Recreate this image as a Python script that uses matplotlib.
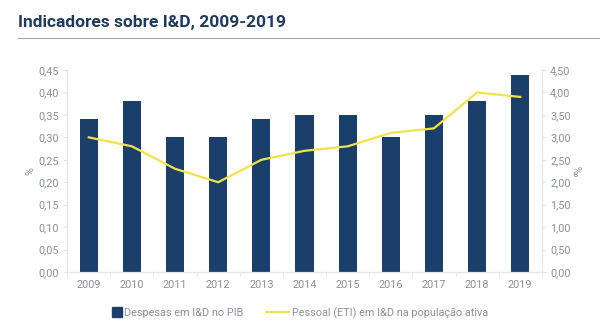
import matplotlib
matplotlib.use("Agg")
import matplotlib.pyplot as plt
import numpy as np
from matplotlib.lines import Line2D
from matplotlib.ticker import FuncFormatter, MultipleLocator, FixedLocator

plt.rcParams["font.family"] = ["Roboto", "DejaVu Sans"]

years = ["2009", "2010", "2011", "2012", "2013", "2014", "2015", "2016", "2017", "2018", "2019"]
despesas_pib = [0.34, 0.38, 0.30, 0.30, 0.34, 0.35, 0.35, 0.30, 0.35, 0.38, 0.44]
pessoal_eti = [3.0, 2.8, 2.3, 2.0, 2.5, 2.7, 2.8, 3.1, 3.2, 4.0, 3.9]

BAR = "#1a3f6b"
LINE = "#f2e14c"
TXT = "#8a8f96"
AXC = "#e3e6ea"

fig = plt.figure(figsize=(6, 3.35), dpi=100)
ax = fig.add_axes([0.112, 0.188, 0.791, 0.603])
ax2 = ax.twinx()

x = np.arange(len(years))
ax.bar(x, despesas_pib, width=0.42, color=BAR, zorder=2)
ax2.plot(x, pessoal_eti, color=LINE, linewidth=1.6)

ax.set_xlim(-0.5, len(years) - 0.5)
ax.set_ylim(0, 0.45)
ax2.set_ylim(0, 4.5)
ax.yaxis.set_major_locator(MultipleLocator(0.05))
ax2.yaxis.set_major_locator(MultipleLocator(0.5))
comma = lambda v, p: f"{v:.2f}".replace(".", ",")
ax.yaxis.set_major_formatter(FuncFormatter(comma))
ax2.yaxis.set_major_formatter(FuncFormatter(comma))

ax.set_xticks(x)
ax.set_xticklabels(years)
ax.xaxis.set_minor_locator(FixedLocator(np.arange(-0.5, len(years), 1.0)))
ax.tick_params(axis="x", which="major", length=0, pad=6, labelsize=7.8, labelcolor=TXT)
ax.tick_params(axis="x", which="minor", length=3, color=AXC)
ax.tick_params(axis="y", length=3, color=AXC, labelsize=7.8, labelcolor=TXT, pad=3)
ax2.tick_params(axis="y", length=3, color=AXC, labelsize=7.8, labelcolor=TXT, pad=3)

for a in (ax, ax2):
    a.spines["top"].set_visible(False)
    for s in ("left", "right", "bottom"):
        a.spines[s].set_color(AXC)
        a.spines[s].set_linewidth(0.8)

ax.set_ylabel("%", color=TXT, fontsize=7.8, labelpad=2)
ax2.set_ylabel("‰", color=TXT, fontsize=7.8, labelpad=0, rotation=270, va="bottom")

# legend: two pieces so the square sits right next to its text
leg1 = fig.legend([Line2D([], [], linestyle="none", marker="s", markersize=7, color=BAR)],
                  ["Despesas em I&D no PIB"], loc="center right",
                  bbox_to_anchor=(0.405, 0.066), frameon=False, fontsize=7.8,
                  labelcolor=TXT, handlelength=0.8, handletextpad=0.2,
                  borderpad=0, borderaxespad=0)
leg2 = fig.legend([Line2D([], [], color=LINE, linewidth=1.6)],
                  ["Pessoal (ETI) em I&D na população ativa"], loc="center left",
                  bbox_to_anchor=(0.443, 0.066), frameon=False, fontsize=7.8,
                  labelcolor=TXT, handlelength=2.1, handletextpad=0.35,
                  borderpad=0, borderaxespad=0)

fig.text(0.03, 0.932, "Indicadores sobre I&D, 2009-2019", fontsize=12.5, fontweight="bold",
         color="#1f3a5c", va="center")
fig.add_artist(Line2D([0.03, 1.0], [0.886, 0.886], color="#9aa8b8", linewidth=0.8))

fig.savefig("out.png", dpi=100)
